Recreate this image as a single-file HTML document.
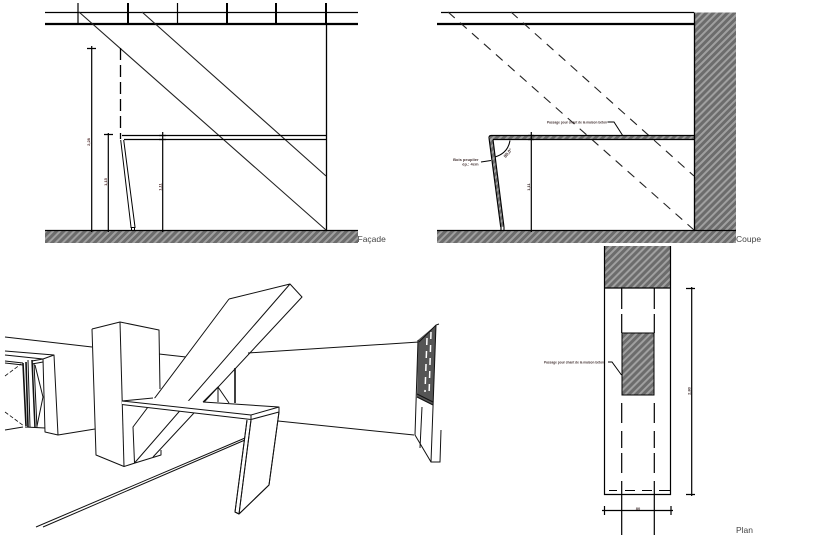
<!DOCTYPE html>
<html>
<head>
<meta charset="utf-8">
<style>
html,body{margin:0;padding:0;background:#fff}
svg{display:block}
text{font-family:"Liberation Sans",sans-serif}
</style>
</head>
<body>
<svg width="826" height="535" viewBox="0 0 826 535" xmlns="http://www.w3.org/2000/svg">
<defs>
<pattern id="h" width="5" height="5" patternUnits="userSpaceOnUse" patternTransform="rotate(-45)">
<rect width="5" height="5" fill="#6c6c6c"/>
<rect width="5" height="2" fill="#a0a0a0"/>
</pattern>
</defs>
<rect width="826" height="535" fill="#fff"/>

<!-- FACADE -->
<rect x="45" y="230" width="313" height="13" fill="url(#h)"/>
<g fill="none" stroke="#000">
<path d="M45 230.500H358" stroke-width="1.200"/>
<path d="M45 12.500H358" stroke-width="1.200"/>
<path d="M45 24H358" stroke-width="2.200"/>
<path d="M78 3V24M177.500 3V24" stroke-width="1.200"/>
<path d="M128 3V24M227 3V24M276 3V24M326 3V24" stroke-width="2"/>
<path d="M326.500 24V230" stroke-width="1.300"/>
<path d="M79 12L326 230M142 12L326 176" stroke-width="1.100" stroke="#222"/>
<path d="M122 135.500H326M124 139.500H326" stroke-width="1.200"/>
<path d="M120.500 48V139" stroke-width="1.300" stroke-dasharray="12 5"/>
<path d="M91.700 46V232M87 48.500H96" stroke-width="1.200"/>
<path d="M108.300 133V232M104 134.500H113" stroke-width="1.200"/>
<path d="M162.700 132V232M159 135.500H166M159 139.500H166" stroke-width="1.200"/>
<path d="M120.700 140L131 227M123.700 140L135 227M131.500 227V230M134.500 227V230M130.500 227.500H135.500" stroke-width="1"/>
</g>
<g fill="#533" font-size="4" font-weight="bold">
<text transform="translate(90 142) rotate(-90)" text-anchor="middle">2,28</text>
<text transform="translate(107 182) rotate(-90)" text-anchor="middle">1,15</text>
<text transform="translate(161.500 187) rotate(-90)" text-anchor="middle">1,11</text>
</g>
<text x="357.500" y="242" font-size="8.500" fill="#444">Façade</text>

<!-- COUPE -->
<rect x="437" y="230" width="299" height="13" fill="url(#h)"/>
<rect x="694" y="12.500" width="42" height="218" fill="url(#h)"/>
<rect x="490" y="135.500" width="204" height="4" fill="url(#h)"/>
<path d="M489 138L500.700 227L504 227L493 139Z" fill="url(#h)"/>
<g fill="none" stroke="#000">
<path d="M441 12.500H694" stroke-width="1.200"/>
<path d="M437 24H694" stroke-width="2.200"/>
<path d="M694.500 12.500V230" stroke-width="1.300"/>
<path d="M437 230.500H736" stroke-width="1.200"/>
<path d="M448 12L694 230M511 12L694 176" stroke-width="1.100" stroke="#222" stroke-dasharray="9 7"/>
<path d="M489 138Q489 135.500 491 135.500H694M493 139.500H694" stroke-width="1.200"/>
<path d="M489 138L500.700 227M493 139.500L504 227M501 227V230M504 227V230" stroke-width="1.100"/>
<path d="M531.300 132V232M528 135.500H534M528 139.500H534" stroke-width="1.200"/>
<path d="M510 140.500Q508 153 495 157" stroke-width="1.100"/>
<path d="M481 162L491 160.500M607.500 122H614L623 136" stroke-width="1"/>
</g>
<g fill="#433" font-size="4" font-weight="bold">
<text x="547" y="123.500" textLength="60" lengthAdjust="spacingAndGlyphs">Passage pour chant de la maison béton</text>
<text x="478.500" y="161" text-anchor="end">Bois peuplier</text>
<text x="478.500" y="165.500" text-anchor="end">ép.: 4cm</text>
<text transform="translate(530 187) rotate(-90)" text-anchor="middle">1,11</text>
<text transform="translate(509 154) rotate(-50)" text-anchor="middle" font-size="4.500">80,0°</text>
</g>
<text x="736" y="242" font-size="8.500" fill="#444">Coupe</text>

<!-- PLAN -->
<rect x="604" y="246" width="66" height="42" fill="url(#h)"/>
<rect x="622" y="333" width="32" height="62" fill="url(#h)" stroke="#000" stroke-width="1"/>
<g fill="none" stroke="#000">
<path d="M604 288H670" stroke-width="1.300"/>
<path d="M604.500 246V494.500H670.500V246" stroke-width="1.200"/>
<path d="M621.700 288V309M621.700 314V333M621.700 403V423M621.700 431V448M621.700 453V473M621.700 481V535" stroke-width="1.200"/>
<path d="M654.300 288V309M654.300 314V333M654.300 403V423M654.300 431V448M654.300 453V473M654.300 481V535" stroke-width="1.200"/>
<path d="M609 490.500H617M625 490.500H635M642 490.500H652M659 490.500H670" stroke-width="1.100"/>
<path d="M691.700 287V496M686 288.500H695M686 494.500H695" stroke-width="1.200"/>
<path d="M602 510.500H673M604.500 506V515M671 506V515" stroke-width="1.200"/>
<path d="M608 362H612L621.500 375" stroke-width="1"/>
</g>
<g fill="#433" font-size="4" font-weight="bold">
<text x="544" y="363.500" textLength="60" lengthAdjust="spacingAndGlyphs">Passage pour chant de la maison béton</text>
<text x="638" y="510" text-anchor="middle">80</text>
<text transform="translate(690.500 391) rotate(-90)" text-anchor="middle">2,80</text>
</g>
<text x="736" y="533" font-size="8.500" fill="#444">Plan</text>

<!-- PERSPECTIVE -->
<g fill="none" stroke="#111" stroke-width="1" stroke-linejoin="round">
<path d="M5 337L92 347M159 354L186 357"/>
<path d="M92 329L120 322L159 330L160 389M92 329L96 455L124 466.500L135 463L161 455V450"/>
<path d="M120 322L124 466.500"/>
<path d="M229 299L290 284L302 297L153 457M229 299L133 427L134.500 463L290 284"/>
<path d="M248 353L419 342M278 421L414 435"/>
<path d="M235 368V403" stroke-width="1.600"/>
<path d="M203 402L218 387L229 403M218 387V402"/>
<path d="M36 527L245 438M43 527L245 440"/>
<!-- bench occludes beam -->
<path d="M122 401L153 398L203 402L279 407V412L251 420L122 404.500Z" fill="#fff" stroke="none"/>
<path d="M122 401L153 398M203 402L279 407L251 415L122 401M122 404.500L251 419.500L279 412V407M251 415V420"/>
<path d="M247 420L235 512L239 514L251 420M279 412L269 485L239 514" fill="#fff"/>
<path d="M247 420L235 512L239 514L251 420M279 412L269 485L239 514"/>
<!-- left door -->
<path d="M5 351L54 355L58 435L45 432L43 359L54 355M5 355L43 359M58 435L95 429"/>
<path d="M5 361L23 363M5 363L23 365M32 361L43 359M32 364L43 362"/>
<path d="M5 430L23 427M25 427L45 428"/>
<path d="M28 360L30 427M34 363L37 428"/>
<path d="M35 365L43 397L37 426"/>
<path d="M23 363L26 426M26 362L28 427" stroke-width="1.600"/>
<path d="M32 360L35 428" stroke-width="1.500"/>
<path d="M5 376L21 364M5 412L24 426" stroke-dasharray="4 2" stroke-width="0.800"/>
</g>
<!-- right window -->
<path d="M418 340L436 325L433 405L417 397Z" fill="#555"/>
<g fill="none" stroke="#111" stroke-width="1">
<path d="M419 342L436 325L439 324"/>
<path d="M418 340L415 435L431 462L440 462L441 430"/>
<path d="M436 325L431 462"/>
<path d="M422 407L420 448"/>
<path d="M417 397L433 405M417 394L433 402"/>
</g>
<path d="M427 338L425 392M431 332L429 396" stroke="#fff" stroke-width="1.500" fill="none" stroke-dasharray="7 6"/>
</svg>
</body>
</html>
